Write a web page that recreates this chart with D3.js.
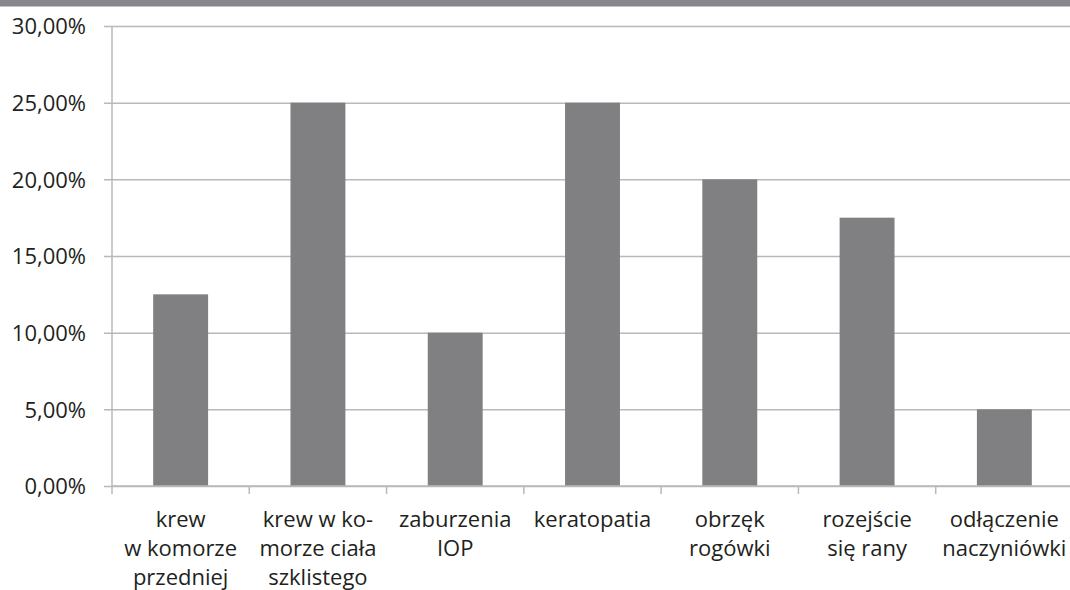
<!DOCTYPE html>
<html>
<head>
<meta charset="utf-8">
<script src="https://cdn.jsdelivr.net/npm/d3@7"></script>
<style>
  html, body { margin: 0; padding: 0; background: #fff; }
  svg { display: block; }
  text { font-family: "Open Sans", "DejaVu Sans", sans-serif; fill: #231f20; }
</style>
</head>
<body>
<svg id="chart" width="1070" height="590"></svg>
<script>
// Complication categories (label lines as typeset) and their shares in percent
const categories = [
  ["krew", "w komorze", "przedniej"],
  ["krew w ko-", "morze ciała", "szklistego"],
  ["zaburzenia", "IOP"],
  ["keratopatia"],
  ["obrzęk", "rogówki"],
  ["rozejście", "się rany"],
  ["odłączenie", "naczyniówki"]
];
const values = [12.5, 25, 10, 25, 20, 17.5, 5];
const yTicks = [0, 5, 10, 15, 20, 25, 30];

(function () {
  const svg = d3.select("#chart");
  const W = 1070;

  // Top banner strip
  svg.append("rect").attr("x", 0).attr("y", 0).attr("width", W).attr("height", 6.5).attr("fill", "#88888c");

  const mLeft = 112, mRight = 1073, mTop = 26, mBottom = 486;

  const x = d3.scaleBand()
    .domain(d3.range(categories.length))
    .range([mLeft, mRight])
    .paddingInner(0.6)
    .paddingOuter(0.3);

  const y = d3.scaleLinear().domain([0, 30]).range([mBottom, mTop]);

  const gridColor = "#b9b9b9";

  // Horizontal gridlines with outward ticks
  const yAxis = d3.axisLeft(y)
    .tickValues(yTicks)
    .tickSize(-(mRight - mLeft))
    .tickSizeOuter(0)
    .tickPadding(26)
    .tickFormat(d => d.toFixed(2).replace(".", ",") + "%");

  const gy = svg.append("g").attr("transform", `translate(${mLeft},0)`).call(yAxis);
  gy.select(".domain").remove();
  gy.selectAll(".tick line").attr("x1", -8).attr("stroke", gridColor).attr("stroke-width", 1.5);
  gy.selectAll(".tick text").attr("font-size", 22).attr("dy", "0.35em");

  // Vertical axis line
  svg.append("line")
    .attr("x1", mLeft).attr("x2", mLeft).attr("y1", mTop).attr("y2", mBottom)
    .attr("stroke", gridColor).attr("stroke-width", 1.5);

  // Bars
  svg.append("g").selectAll("rect")
    .data(values)
    .join("rect")
    .attr("x", (d, i) => x(i))
    .attr("width", x.bandwidth())
    .attr("y", d => y(d))
    .attr("height", d => y(0) - y(d))
    .attr("fill", "#808083");

  // Category axis with boundary ticks between categories
  const n = categories.length;
  const xBoundaries = d3.range(n + 1).map(i => mLeft + i * (mRight - mLeft) / n);
  svg.append("line")
    .attr("x1", mLeft).attr("x2", mRight).attr("y1", mBottom).attr("y2", mBottom)
    .attr("stroke", gridColor).attr("stroke-width", 1.5);
  svg.append("g").selectAll("line")
    .data(xBoundaries)
    .join("line")
    .attr("x1", d => d).attr("x2", d => d)
    .attr("y1", mBottom).attr("y2", mBottom + 8)
    .attr("stroke", gridColor).attr("stroke-width", 1.5);

  // Category labels
  const labels = svg.append("g").selectAll("text")
    .data(categories)
    .join("text")
    .attr("text-anchor", "middle")
    .attr("font-size", 22)
    .attr("x", (d, i) => x(i) + x.bandwidth() / 2)
    .attr("y", 527);
  labels.selectAll("tspan")
    .data(d => d)
    .join("tspan")
    .attr("x", function () { return this.parentNode.getAttribute("x"); })
    .attr("dy", (d, j) => j === 0 ? 0 : 29)
    .text(d => d);
})();
</script>
</body>
</html>
